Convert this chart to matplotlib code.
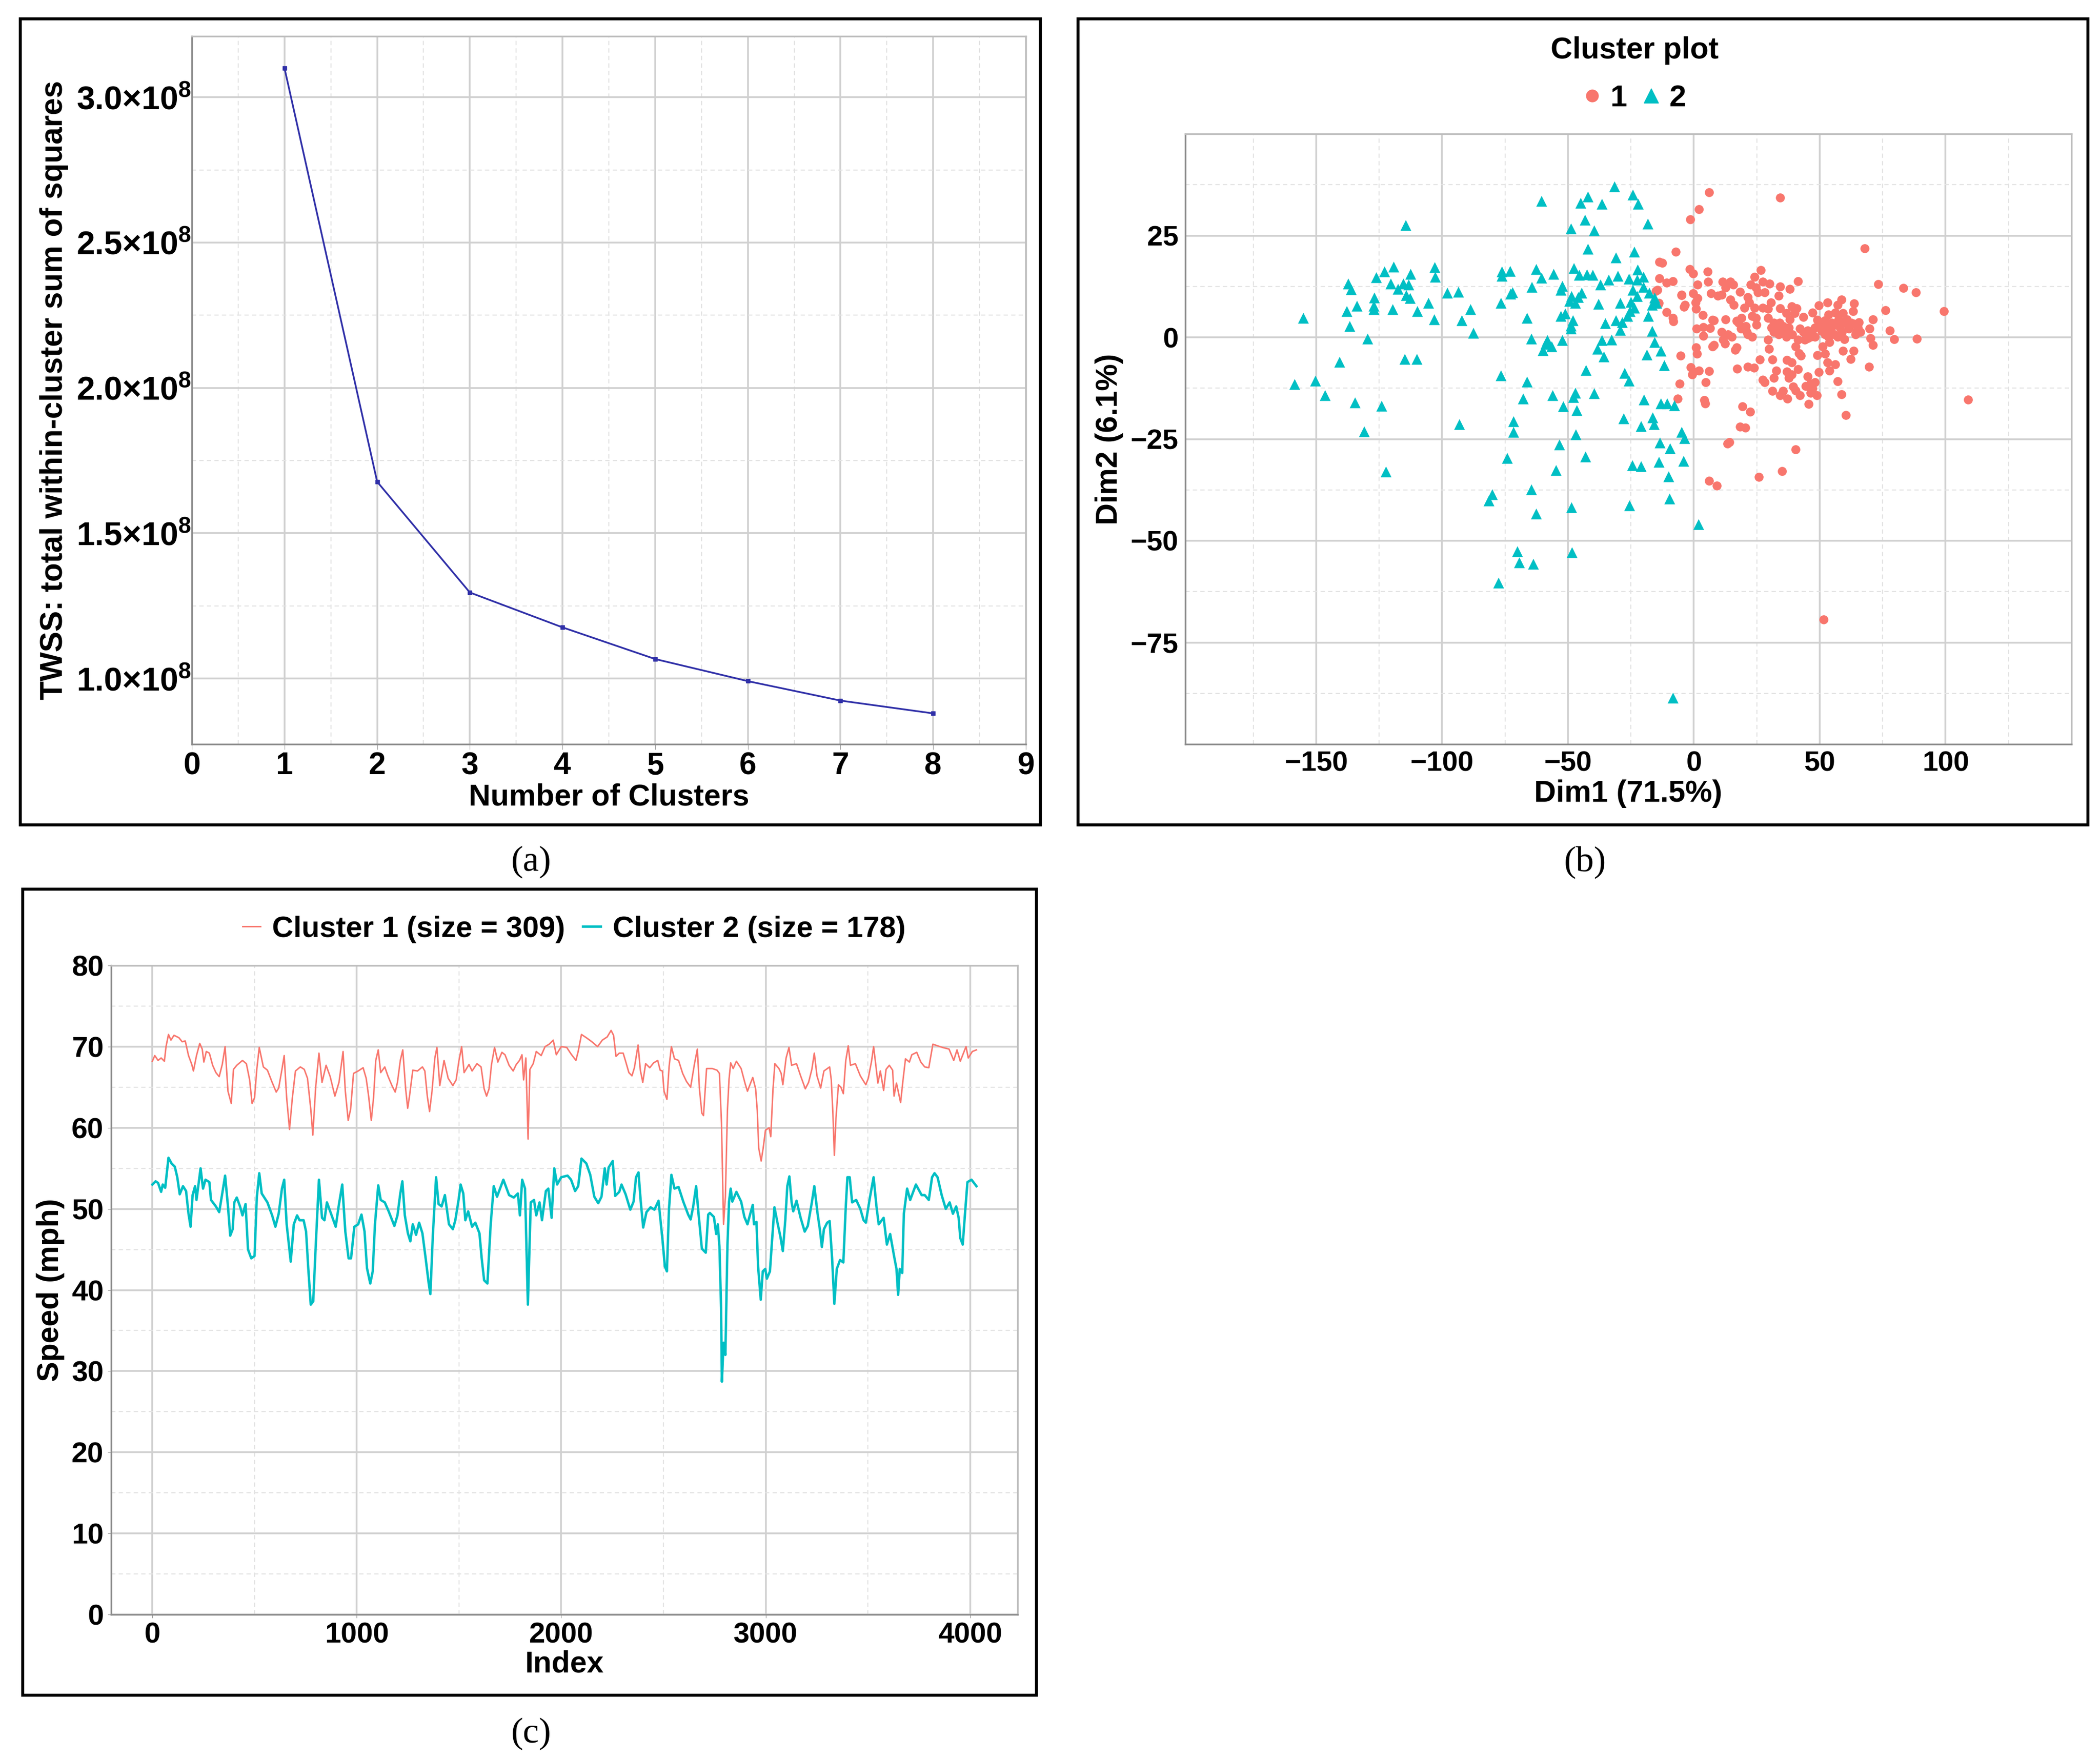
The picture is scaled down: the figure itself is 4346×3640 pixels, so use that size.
import matplotlib
matplotlib.use("Agg")
import matplotlib.pyplot as plt
from matplotlib.patches import Rectangle
from matplotlib.lines import Line2D
from matplotlib.ticker import FixedLocator, MultipleLocator

# ---------------- data ----------------
# (a) elbow curve
n_clusters = [1, 2, 3, 4, 5, 6, 7, 8]
twss = [3.10e8, 1.677e8, 1.296e8, 1.176e8, 1.067e8, 0.991e8, 0.924e8, 0.880e8]
twss_ticks = [1.0e8, 1.5e8, 2.0e8, 2.5e8, 3.0e8]
twss_tick_labels = ["1.0", "1.5", "2.0", "2.5", "3.0"]

# (b) cluster plot, (Dim1, Dim2) pairs
cluster1_points = [
    (6.1, 35.6), (34.3, 34.3), (2.0, 31.5), (-1.5, 29.0), (67.8, 21.8), (-7.1, 21.0), (-13.8, 18.5),
    (-12.5, 18.3), (-1.6, 16.8), (-0.3, 15.7), (5.4, 16.1), (26.6, 16.5), (24.1, 14.8), (41.3, 13.8),
    (-13.8, 14.5), (-10.8, 13.4), (-8.4, 13.8), (1.5, 12.9), (5.6, 13.6), (11.5, 13.6), (14.5, 13.6),
    (12.6, 12.2), (15.7, 12.9), (22.5, 12.9), (24.6, 12.2), (27.3, 13.6), (30.0, 13.2), (34.3, 12.5),
    (38.1, 11.9), (73.2, 13.1), (83.3, 12.1), (88.2, 11.1), (-14.5, 11.6), (-4.8, 10.5), (-0.3, 10.8),
    (1.5, 9.6), (6.9, 10.8), (9.6, 10.2), (11.0, 10.5), (18.4, 11.2), (14.5, 9.3), (15.8, 7.9),
    (21.4, 9.9), (25.5, 11.1), (28.2, 11.1), (33.6, 10.2), (-14.1, 8.2), (-10.8, 6.2), (-8.4, 4.7),
    (-8.1, 3.9), (-3.6, 7.9), (-3.9, 7.5), (0.6, 8.5), (0.9, 7.0), (3.6, 5.5), (7.4, 4.3), (12.6, 4.4),
    (16.9, 4.0), (18.9, 4.7), (20.1, 7.3), (21.9, 8.5), (24.1, 7.3), (27.3, 7.3), (29.4, 7.0),
    (30.7, 8.5), (24.6, 4.8), (23.2, 5.2), (29.5, 4.7), (24.8, 3.1), (34.3, 7.1), (36.8, 5.9),
    (38.8, 7.6), (40.8, 7.1), (40.0, 5.9), (38.1, 4.4), (43.5, 5.0), (47.2, 6.0), (49.6, 7.8),
    (53.0, 8.6), (57.1, 7.9), (58.7, 9.3), (63.7, 8.3), (53.5, 5.6), (56.2, 6.0), (59.3, 5.9),
    (63.2, 6.4), (49.0, 4.3), (76.2, 6.7), (71.1, 4.4), (99.4, 6.4), (1.1, 2.1), (3.8, 2.5), (6.5, 2.2),
    (7.9, 4.1), (3.8, 0.3), (11.0, 1.3), (13.6, 0.7), (11.7, -0.6), (15.0, 0.1), (12.4, -1.5),
    (17.8, 3.6), (18.7, 2.1), (20.6, 2.7), (21.0, 1.3), (21.4, 0.7), (23.2, 0.1), (30.9, 2.4),
    (32.7, 3.0), (31.8, 1.3), (33.6, 0.7), (34.9, 2.1), (35.9, 1.3), (36.8, 0.1), (37.7, 2.4),
    (34.1, 3.6), (29.5, -0.6), (42.2, 2.1), (43.5, 1.3), (45.3, 1.7), (47.2, 0.7), (48.1, 2.4),
    (50.8, 1.6), (52.6, 2.7), (54.4, 1.8), (56.2, 3.1), (58.0, 2.4), (59.8, 3.6), (61.6, 2.1),
    (63.4, 3.3), (65.2, 2.4), (65.6, 3.7), (64.3, 0.7), (59.8, -0.5), (53.5, 0.1), (55.7, 0.7),
    (69.7, 2.1), (70.2, -0.2), (71.1, -1.9), (77.9, 1.7), (79.5, -0.5), (88.5, -0.3), (41.3, -0.6),
    (44.0, -0.6), (45.2, -0.2), (40.4, -2.2), (41.7, -3.9), (42.6, -4.5), (51.2, -2.2), (53.9, -1.2),
    (49.0, -4.4), (52.1, -4.0), (59.3, -3.3), (63.4, -3.3), (62.3, -5.4), (69.5, -7.2), (57.1, -10.8),
    (58.7, -14.0), (60.4, -19.1), (108.9, -15.3), (0.9, -2.5), (1.3, -4.0), (-5.2, -4.5), (7.9, -1.9),
    (7.4, -2.2), (16.9, -2.5), (16.4, -3.1), (29.8, -2.9), (26.2, -5.5), (31.1, -5.5), (37.0, -5.6),
    (38.9, -6.2), (-1.2, -7.4), (-0.3, -8.4), (-0.7, -9.2), (2.0, -8.2), (6.1, -8.3), (17.1, -7.7),
    (21.4, -7.3), (23.9, -7.5), (32.7, -8.2), (31.8, -10.0), (37.0, -8.4), (37.7, -10.0), (38.9, -9.1),
    (41.3, -7.8), (49.7, -8.6), (53.0, -6.2), (53.9, -8.2), (56.2, -6.7), (45.3, -9.6), (27.3, -10.4),
    (28.2, -11.1), (-5.7, -11.4), (4.7, -11.1), (31.1, -13.2), (34.3, -14.2), (35.4, -13.2),
    (39.5, -12.1), (40.4, -13.1), (42.2, -14.3), (37.2, -15.1), (44.4, -12.0), (46.3, -11.4),
    (47.2, -12.6), (48.1, -11.1), (46.3, -13.7), (48.8, -14.3), (45.5, -16.4), (-6.4, -15.1),
    (4.2, -15.4), (4.5, -16.3), (19.2, -17.0), (22.3, -18.3), (18.3, -22.0), (20.5, -22.2),
    (13.3, -26.1), (14.2, -25.8), (40.4, -27.6), (35.0, -32.9), (25.9, -34.3), (6.1, -35.3),
    (9.2, -36.5), (51.6, -69.4), (-15.1, 11.4), (-13.9, 8.4), (-4.9, 10.3), (31.8, 3.6), (35.4, 2.7),
    (39.0, 0.7), (49.9, 3.0), (52.1, 4.1), (54.8, 3.6), (57.5, 4.4), (60.7, 4.4), (62.5, 3.6),
    (64.8, 1.7), (66.1, 1.3), (58.9, 1.3), (57.1, 0.1), (52.1, 0.7), (48.1, 0.1), (46.3, 0.1),
]
cluster2_points = [
    (-114.4, 27.6), (-60.5, 33.5), (-45.0, 33.0), (-42.1, 34.6), (-36.5, 32.8), (-31.5, 37.0),
    (-24.2, 35.0), (-22.2, 32.8), (-43.3, 28.9), (-48.9, 26.7), (-39.6, 26.2), (-18.4, 27.9),
    (-42.1, 21.7), (-30.9, 19.6), (-23.7, 21.0), (-122.9, 16.1), (-119.3, 17.3), (-126.2, 14.7),
    (-112.5, 15.6), (-103.0, 17.2), (-102.8, 14.8), (-137.3, 13.2), (-136.1, 11.8), (-120.5, 13.2),
    (-115.4, 13.2), (-113.4, 12.9), (-117.5, 11.9), (-126.9, 9.7), (-127.1, 7.7), (-127.1, 6.9),
    (-133.8, 7.7), (-137.8, 6.4), (-114.2, 10.3), (-112.8, 9.6), (-119.7, 6.9), (-105.4, 8.4),
    (-109.8, 6.4), (-103.2, 4.4), (-98.0, 10.9), (-93.6, 11.2), (-88.8, 6.9), (-92.2, 4.2),
    (-87.6, 1.1), (-155.2, 4.8), (-136.7, 2.7), (-129.6, -0.4), (-114.9, -5.3), (-110.1, -5.3),
    (-140.8, -6.1), (-150.4, -10.7), (-158.7, -11.5), (-146.5, -14.3), (-134.7, -16.0),
    (-124.0, -16.9), (-130.9, -23.2), (-122.3, -33.0), (-93.1, -21.4), (-76.2, 16.1), (-73.1, 16.3),
    (-76.2, 15.1), (-62.6, 16.7), (-60.5, 14.6), (-55.8, 15.6), (-72.0, 11.1), (-72.8, 10.7),
    (-64.3, 12.3), (-52.3, 12.6), (-52.8, 11.6), (-47.7, 17.0), (-45.5, 15.3), (-42.6, 15.4),
    (-40.2, 15.3), (-76.7, 8.4), (-66.3, 4.7), (-48.6, 10.1), (-44.7, 10.9), (-45.9, 9.9),
    (-49.4, 8.9), (-47.2, 8.4), (-52.8, 5.2), (-51.2, 5.8), (-48.9, 2.8), (-48.9, 2.1), (-64.6, -0.3),
    (-58.3, -0.7), (-57.8, -1.7), (-56.6, -2.2), (-60.0, -3.2), (-58.8, -1.5), (-37.2, 12.9),
    (-33.9, 14.1), (-30.2, 15.1), (-25.9, 14.4), (-22.5, 14.1), (-20.0, 14.8), (-29.2, 8.4),
    (-25.1, 8.7), (-24.2, 11.6), (-22.5, 10.1), (-20.0, 12.4), (-17.7, 10.9), (-15.7, 9.7),
    (-16.5, 7.9), (-25.4, 6.4), (-23.7, 7.2), (-26.4, 5.2), (-30.9, 4.2), (-35.3, 3.4), (-28.5, 3.7),
    (-29.2, 1.8), (-18.1, 5.2), (-16.5, 1.5), (-36.5, -0.7), (-32.7, -0.6), (-38.2, -2.9),
    (-35.8, -4.8), (-15.7, -1.2), (-18.8, -4.3), (-13.1, -3.3), (-11.8, -6.9), (-42.8, -8.1),
    (-27.5, -8.8), (-25.9, -10.7), (-76.6, -9.4), (-66.3, -10.9), (-67.8, -15.1), (-56.1, -14.2),
    (-52.0, -17.0), (-47.9, -14.7), (-47.2, -13.7), (-46.5, -17.9), (-39.6, -13.8), (-71.6, -20.7),
    (-71.6, -23.3), (-46.9, -23.9), (-28.0, -19.9), (-19.8, -15.3), (-13.1, -16.3), (-10.6, -16.3),
    (-7.7, -16.7), (-16.4, -19.7), (-15.8, -21.4), (-21.0, -21.9), (-74.2, -29.7), (-53.5, -26.4),
    (-54.7, -32.7), (-43.0, -29.3), (-13.5, -25.9), (-9.4, -27.3), (-4.9, -23.3), (-3.8, -24.8),
    (-24.4, -31.5), (-21.0, -31.7), (-14.0, -30.7), (-4.1, -30.4), (-10.1, -34.2), (-9.7, -39.7),
    (-25.7, -41.3), (-48.6, -41.8), (-64.6, -37.4), (-62.6, -43.3), (-80.1, -38.6), (-81.5, -40.1),
    (1.9, -46.0), (-70.1, -52.6), (-69.4, -55.4), (-63.9, -55.7), (-48.4, -52.9), (-77.6, -60.3),
    (-8.4, -88.6), (-52.3, -0.7), (-48.1, 4.2), (-37.9, 8.2), (-22.3, 16.6), (-14.8, 8.4),
]

# (c) speed profiles, (index, mph) pairs
cluster1_speed = [
    (0, 68.2), (12, 68.9), (28, 68.3), (43, 68.6), (59, 68.2), (67, 70.0), (79, 71.5), (91, 70.8),
    (106, 71.4), (130, 71.1), (146, 70.6), (161, 70.7), (177, 68.9), (193, 67.8), (201, 67.0),
    (216, 68.9), (232, 70.4), (244, 69.7), (252, 68.1), (264, 69.4), (279, 69.2), (295, 67.7),
    (311, 66.8), (327, 66.3), (342, 67.8), (356, 70.0), (370, 64.5), (386, 63.0), (397, 67.2),
    (413, 67.7), (441, 68.3), (460, 67.9), (476, 65.9), (488, 63.0), (500, 63.7), (511, 67.2),
    (523, 69.9), (543, 67.5), (563, 67.1), (586, 65.6), (606, 64.4), (618, 64.9), (634, 67.2),
    (645, 68.9), (657, 63.7), (671, 59.8), (685, 63.7), (700, 67.0), (724, 67.5), (743, 67.2),
    (759, 66.1), (775, 62.3), (785, 59.1), (799, 65.0), (815, 69.2), (830, 65.6), (850, 67.7),
    (870, 66.3), (893, 63.9), (913, 65.6), (933, 69.4), (944, 64.5), (958, 60.9), (970, 62.3),
    (984, 66.7), (1007, 67.0), (1031, 67.4), (1046, 66.1), (1058, 63.9), (1071, 60.9), (1082, 63.7),
    (1093, 68.3), (1105, 69.6), (1117, 66.8), (1137, 67.5), (1152, 66.4), (1172, 65.2), (1188, 64.4),
    (1199, 65.6), (1213, 68.3), (1225, 69.6), (1239, 64.8), (1249, 62.4), (1258, 63.9), (1274, 67.1),
    (1297, 67.0), (1321, 67.5), (1333, 67.0), (1345, 63.9), (1356, 62.0), (1368, 64.5), (1382, 68.6),
    (1392, 69.9), (1406, 65.2), (1427, 68.3), (1447, 66.1), (1470, 65.2), (1486, 65.9), (1500, 68.3),
    (1513, 70.0), (1525, 66.8), (1549, 67.8), (1564, 67.0), (1588, 67.9), (1608, 67.5), (1623, 64.8),
    (1635, 63.9), (1647, 64.8), (1659, 67.8), (1674, 69.9), (1690, 68.1), (1710, 69.3), (1725, 69.0),
    (1745, 67.7), (1765, 67.0), (1780, 67.8), (1796, 68.3), (1808, 69.0), (1816, 65.9), (1827, 68.6),
    (1838, 58.6), (1847, 67.2), (1863, 67.9), (1878, 69.4), (1902, 68.9), (1921, 70.0), (1941, 70.3),
    (1961, 70.8), (1976, 69.0), (2000, 70.0), (2027, 69.9), (2048, 69.1), (2072, 68.3), (2083, 69.4),
    (2099, 71.5), (2123, 71.1), (2150, 70.6), (2178, 70.0), (2201, 70.8), (2225, 71.2), (2244, 72.0),
    (2256, 71.4), (2268, 68.8), (2284, 69.2), (2303, 69.2), (2315, 68.2), (2331, 66.8), (2346, 66.4),
    (2358, 67.4), (2376, 70.2), (2387, 67.1), (2399, 65.6), (2413, 67.9), (2433, 67.4), (2452, 68.0),
    (2472, 68.3), (2484, 67.1), (2495, 67.0), (2503, 64.5), (2517, 63.5), (2528, 67.6), (2539, 70.0),
    (2554, 68.5), (2574, 68.3), (2594, 66.7), (2613, 65.7), (2633, 65.0), (2652, 67.9), (2666, 69.7),
    (2676, 64.8), (2688, 61.8), (2696, 61.5), (2711, 67.3), (2739, 67.3), (2762, 67.1), (2774, 66.7),
    (2784, 60.6), (2794, 48.1), (2803, 51.5), (2813, 62.1), (2821, 66.0), (2829, 68.0), (2841, 67.3),
    (2857, 68.2), (2880, 67.3), (2900, 65.4), (2911, 64.5), (2923, 65.3), (2937, 66.2), (2951, 64.8),
    (2959, 62.1), (2966, 57.5), (2978, 55.9), (2988, 57.5), (2999, 59.7), (3017, 60.0), (3025, 58.9),
    (3036, 64.8), (3045, 67.9), (3065, 67.3), (3076, 66.7), (3084, 65.3), (3100, 68.6), (3114, 69.9),
    (3127, 67.7), (3151, 67.9), (3171, 66.4), (3194, 64.8), (3210, 65.6), (3226, 67.2), (3238, 69.2),
    (3251, 66.4), (3269, 64.9), (3285, 67.0), (3313, 67.5), (3321, 65.9), (3329, 61.7), (3336, 56.6),
    (3344, 61.2), (3356, 65.3), (3368, 65.0), (3380, 64.2), (3392, 68.3), (3404, 70.1), (3415, 67.7),
    (3439, 67.9), (3463, 66.4), (3490, 65.3), (3502, 66.1), (3518, 68.2), (3528, 70.0), (3538, 67.9),
    (3549, 65.5), (3561, 67.0), (3577, 64.6), (3589, 67.2), (3605, 67.7), (3621, 67.1), (3628, 63.9),
    (3640, 65.5), (3660, 63.1), (3672, 65.9), (3684, 68.5), (3703, 68.1), (3715, 69.0), (3739, 69.3),
    (3759, 68.1), (3778, 67.5), (3798, 67.4), (3818, 70.3), (3841, 70.1), (3865, 69.9), (3897, 69.7),
    (3920, 68.3), (3936, 69.6), (3952, 68.2), (3980, 70.0), (3991, 68.6), (4011, 69.4), (4031, 69.6),
]
cluster2_speed = [
    (0, 53.0), (16, 53.4), (28, 53.2), (43, 52.1), (51, 53.0), (63, 52.6), (79, 56.3), (94, 55.6),
    (110, 55.2), (122, 53.9), (134, 51.8), (150, 52.8), (165, 52.2), (177, 49.4), (187, 47.8),
    (197, 51.7), (209, 52.8), (216, 51.1), (236, 55.0), (248, 52.5), (260, 53.6), (279, 53.3),
    (287, 51.1), (311, 50.3), (327, 49.6), (342, 51.9), (356, 54.1), (370, 50.3), (381, 46.7),
    (393, 47.5), (401, 50.8), (413, 51.4), (429, 50.3), (441, 49.2), (456, 50.6), (468, 45.0),
    (484, 43.9), (500, 44.2), (511, 51.4), (523, 54.4), (535, 51.9), (563, 50.8), (586, 49.2),
    (602, 47.8), (618, 49.4), (634, 52.5), (645, 53.6), (657, 48.1), (677, 43.5), (692, 48.1),
    (708, 49.2), (720, 48.6), (740, 48.6), (752, 47.2), (763, 42.6), (775, 38.2), (787, 38.6),
    (799, 45.3), (815, 53.6), (830, 48.9), (842, 48.6), (854, 50.8), (870, 49.7), (897, 47.8),
    (913, 50.6), (929, 53.0), (944, 47.2), (960, 43.9), (972, 43.9), (988, 47.8), (1007, 48.1),
    (1023, 49.3), (1038, 47.2), (1050, 42.7), (1066, 40.8), (1078, 42.3), (1089, 48.1), (1105, 52.9),
    (1117, 51.1), (1137, 50.8), (1156, 49.7), (1184, 47.9), (1199, 49.2), (1213, 51.9), (1223, 53.4),
    (1235, 49.2), (1250, 47.0), (1262, 46.0), (1274, 48.1), (1290, 46.8), (1305, 48.3), (1321, 47.0),
    (1337, 43.9), (1352, 40.8), (1360, 39.5), (1372, 46.7), (1388, 53.9), (1400, 50.6), (1415, 50.3),
    (1431, 51.7), (1451, 48.1), (1470, 47.5), (1482, 48.6), (1498, 51.1), (1508, 53.0), (1521, 51.9),
    (1531, 48.6), (1545, 49.7), (1564, 47.8), (1580, 48.3), (1600, 47.0), (1611, 43.9), (1623, 41.2),
    (1639, 40.8), (1655, 48.1), (1670, 52.8), (1686, 51.5), (1717, 53.6), (1745, 51.7), (1768, 51.4),
    (1788, 51.9), (1798, 49.2), (1809, 53.6), (1823, 52.5), (1837, 38.2), (1851, 50.8), (1867, 51.1),
    (1878, 49.2), (1894, 50.8), (1906, 48.6), (1925, 52.2), (1937, 52.5), (1953, 48.9), (1966, 55.0),
    (1980, 53.0), (2000, 53.9), (2031, 54.1), (2048, 53.6), (2068, 52.2), (2083, 52.8), (2099, 56.2),
    (2123, 55.6), (2142, 54.2), (2162, 51.5), (2181, 50.7), (2197, 51.5), (2213, 55.0), (2222, 53.0),
    (2232, 55.1), (2252, 55.9), (2264, 51.6), (2284, 52.1), (2295, 53.0), (2315, 51.8), (2338, 49.9),
    (2354, 50.9), (2366, 53.9), (2378, 54.5), (2389, 50.9), (2401, 47.7), (2417, 49.6), (2437, 50.2),
    (2456, 49.9), (2476, 51.0), (2484, 49.0), (2495, 46.3), (2507, 42.9), (2517, 42.3), (2527, 49.9),
    (2539, 54.2), (2554, 52.5), (2574, 52.7), (2597, 50.9), (2621, 49.3), (2633, 48.7), (2645, 50.2),
    (2660, 52.8), (2672, 49.3), (2688, 45.1), (2707, 44.6), (2719, 49.3), (2727, 49.5), (2747, 49.0),
    (2758, 46.9), (2766, 48.1), (2774, 45.4), (2782, 37.8), (2786, 28.7), (2794, 33.5), (2803, 32.0),
    (2813, 45.4), (2821, 50.9), (2829, 52.5), (2837, 50.9), (2857, 52.1), (2880, 50.9), (2896, 49.0),
    (2911, 48.1), (2927, 49.6), (2937, 50.5), (2943, 48.1), (2955, 48.4), (2963, 42.9), (2976, 38.8),
    (2986, 42.3), (2998, 42.6), (3006, 41.4), (3021, 42.3), (3031, 46.0), (3043, 50.2), (3057, 48.4),
    (3072, 46.6), (3084, 44.8), (3096, 48.6), (3106, 52.8), (3116, 54.0), (3127, 50.8), (3135, 49.7),
    (3151, 51.0), (3171, 48.9), (3191, 47.2), (3206, 47.9), (3226, 50.8), (3238, 52.8), (3254, 49.4),
    (3265, 47.5), (3275, 45.3), (3285, 47.5), (3301, 48.3), (3313, 48.5), (3325, 43.9), (3336, 38.3),
    (3348, 42.6), (3364, 43.7), (3380, 43.4), (3392, 50.3), (3400, 53.9), (3411, 53.9), (3423, 50.8),
    (3443, 51.1), (3463, 50.0), (3479, 48.6), (3490, 48.3), (3510, 51.4), (3528, 53.9), (3542, 50.3),
    (3553, 48.1), (3577, 48.9), (3593, 45.6), (3609, 46.9), (3628, 44.2), (3640, 42.6), (3648, 39.4),
    (3656, 42.6), (3668, 42.1), (3676, 49.4), (3692, 52.5), (3707, 51.1), (3735, 53.0), (3763, 51.7),
    (3778, 51.7), (3798, 51.1), (3814, 53.9), (3826, 54.4), (3841, 53.9), (3861, 51.7), (3881, 50.0),
    (3900, 50.8), (3916, 49.4), (3932, 50.3), (3944, 48.9), (3952, 46.4), (3964, 45.6), (3976, 49.7),
    (3987, 53.3), (4007, 53.6), (4031, 52.8),
]

RED = "#F8766D"
TEAL = "#00BFC4"

# ---------------- figure ----------------
plt.rcParams['font.family'] = ['Liberation Sans', 'DejaVu Sans']
plt.rcParams['font.weight'] = 'bold'
plt.rcParams['axes.labelweight'] = 'bold'
plt.rcParams['mathtext.fontset'] = 'custom'
plt.rcParams['mathtext.bf'] = 'Liberation Sans:bold'
plt.rcParams['mathtext.rm'] = 'Liberation Sans:bold'

W, H = 4346, 3640
fig = plt.figure(figsize=(W / 100, H / 100), dpi=100)


def px_box(left, top, right, bottom):
    # pixel box (from top-left) -> figure fraction rect
    return [left / W, 1 - bottom / H, (right - left) / W, (bottom - top) / H]


def panel_frame(left, top, right, bottom):
    r = px_box(left, top, right, bottom)
    fig.add_artist(Rectangle((r[0], r[1]), r[2], r[3], transform=fig.transFigure,
                             fill=False, lw=4.5, ec='black'))


def gg_grid(ax):
    ax.grid(True, which='major', color='#d0d0d0', lw=2.6, ls='-')
    ax.grid(True, which='minor', color='#e3e3e3', lw=1.6, ls=(0, (4, 3)))
    ax.set_axisbelow(True)
    for side in ['left', 'bottom']:
        ax.spines[side].set_color('#8c8c8c')
        ax.spines[side].set_linewidth(2.5)
    for side in ['top', 'right']:
        ax.spines[side].set_color('#bdbdbd')
        ax.spines[side].set_linewidth(2.5)


panel_frame(42, 39, 2153, 1707)
panel_frame(2231, 39, 4321, 1707)
panel_frame(47, 1840, 2145, 3508)

# ---- (a) elbow plot ----
ax_a = fig.add_axes(px_box(397, 75, 2123, 1540))
ax_a.plot(n_clusters, twss, color='#3030a8', lw=2.6, marker='s', ms=6)
ax_a.set_xlim(0, 9)
ax_a.set_ylim(0.774e8, 3.21e8)
ax_a.xaxis.set_major_locator(MultipleLocator(1))
ax_a.xaxis.set_minor_locator(MultipleLocator(0.5))
ax_a.yaxis.set_major_locator(FixedLocator(twss_ticks))
ax_a.yaxis.set_minor_locator(FixedLocator([1.25e8, 1.75e8, 2.25e8, 2.75e8]))
ax_a.set_yticklabels([r"$\mathbf{%s{\times}10^{8}}$" % s for s in twss_tick_labels])
gg_grid(ax_a)
ax_a.tick_params(axis='x', which='major', labelsize=46, length=8, color='#999999', pad=3)
ax_a.tick_params(axis='y', which='major', labelsize=49, length=0, pad=1)
ax_a.tick_params(which='minor', length=0)
ax_a.set_xlabel('Number of Clusters', fontsize=45)
ax_a.xaxis.set_label_coords(0.5, -0.055)
ax_a.set_ylabel('TWSS: total within-cluster sum of squares', fontsize=46)
ax_a.yaxis.set_label_coords(-0.148, 0.5)

# ---- (b) cluster plot ----
ax_b = fig.add_axes(px_box(2453, 277, 4287, 1540))
ax_b.scatter([p[0] for p in cluster1_points], [p[1] for p in cluster1_points],
             s=180, marker='o', color=RED, lw=0)
ax_b.scatter([p[0] for p in cluster2_points], [p[1] for p in cluster2_points],
             s=260, marker='^', color=TEAL, lw=0)
ax_b.set_xlim(-202, 150)
ax_b.set_ylim(-100, 50)
ax_b.xaxis.set_major_locator(FixedLocator([-150, -100, -50, 0, 50, 100]))
ax_b.xaxis.set_minor_locator(FixedLocator([-175, -125, -75, -25, 25, 75, 125]))
ax_b.yaxis.set_major_locator(FixedLocator([-75, -50, -25, 0, 25]))
ax_b.yaxis.set_minor_locator(FixedLocator([-87.5, -62.5, -37.5, -12.5, 12.5, 37.5]))
gg_grid(ax_b)
ax_b.tick_params(which='major', labelsize=42, length=0, pad=10)
ax_b.tick_params(which='minor', length=0)
ax_b.set_xlabel('Dim1 (71.5%)', fontsize=45)
ax_b.xaxis.set_label_coords(0.5, -0.058)
ax_b.set_ylabel('Dim2 (6.1%)', fontsize=45)
ax_b.yaxis.set_label_coords(-0.070, 0.5)
fig.text(3383 / W, 1 - 105 / H, 'Cluster plot', fontsize=45, ha='center', va='center')
b_handles = [Line2D([], [], ls='', marker='o', ms=18, color=RED),
             Line2D([], [], ls='', marker='^', ms=21, color=TEAL)]
ax_b.legend(b_handles, ['1', '2'], ncol=2, loc='center', frameon=False,
            bbox_to_anchor=(3383 / W, 1 - 203 / H), bbox_transform=fig.transFigure,
            fontsize=45, handlelength=0.6, handletextpad=0.3, columnspacing=0.5)

# ---- (c) speed profiles ----
ax_c = fig.add_axes(px_box(230, 1998, 2106, 3341))
ax_c.plot([p[0] for p in cluster1_speed], [p[1] for p in cluster1_speed], color=RED, lw=2.2)
ax_c.plot([p[0] for p in cluster2_speed], [p[1] for p in cluster2_speed], color=TEAL, lw=3.6)
ax_c.set_xlim(-201.5, 4232.5)
ax_c.set_ylim(0, 80)
ax_c.xaxis.set_major_locator(MultipleLocator(1000))
ax_c.xaxis.set_minor_locator(MultipleLocator(500))
ax_c.yaxis.set_major_locator(MultipleLocator(10))
ax_c.yaxis.set_minor_locator(MultipleLocator(5))
gg_grid(ax_c)
ax_c.tick_params(which='major', labelsize=43, length=5, color='#8c8c8c', pad=6)
ax_c.tick_params(which='minor', length=0)
ax_c.set_xlabel('Index', fontsize=45)
ax_c.xaxis.set_label_coords(0.5, -0.055)
ax_c.set_ylabel('Speed (mph)', fontsize=45)
ax_c.yaxis.set_label_coords(-0.051, 0.5)
c_handles = [Line2D([], [], color=RED, lw=2.2), Line2D([], [], color=TEAL, lw=3.6)]
ax_c.legend(c_handles, ['Cluster 1 (size = 309)', 'Cluster 2 (size = 178)'], ncol=2,
            loc='center', frameon=False, bbox_to_anchor=(1188 / W, 1 - 1923 / H),
            bbox_transform=fig.transFigure, fontsize=44, handlelength=0.6,
            handletextpad=0.4, columnspacing=0.6)

# ---- panel captions ----
serif = ['Liberation Serif', 'DejaVu Serif']
for label, cx, cy in [('(a)', 1099, 1784), ('(b)', 3280, 1784), ('(c)', 1099, 3588)]:
    fig.text(cx / W, 1 - cy / H, label, family=serif, fontsize=54, fontweight='normal',
             ha='center', va='center')

fig.savefig('out.png', dpi=100, facecolor='white')
